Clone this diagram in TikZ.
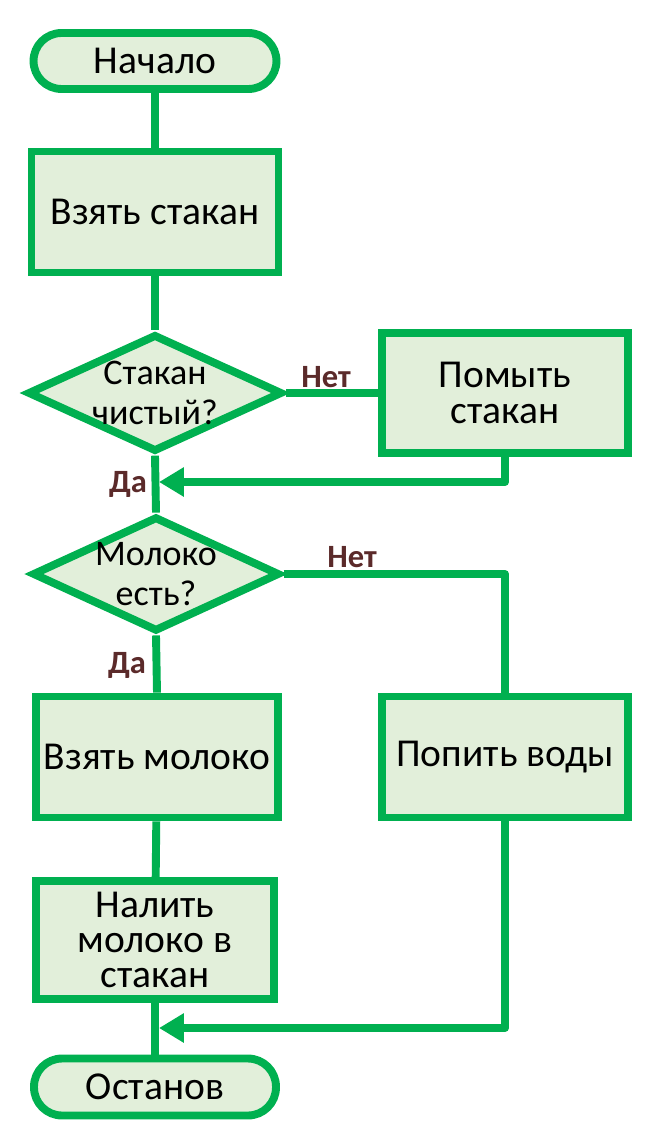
\documentclass[tikz,border=0pt]{standalone}
\usepackage{fontspec}
\setmainfont{Carlito}
\usetikzlibrary{shapes.geometric,arrows.meta}
\definecolor{gline}{HTML}{00B050}
\definecolor{gfill}{HTML}{E2EFDA}
\definecolor{lbl}{HTML}{5B2A2A}
\tikzset{
  base/.style={draw=gline, fill=gfill, line width=4.5pt, inner sep=0pt, align=center,
    font=\fontsize{22.5}{20}\selectfont},
  term/.style={base, rounded corners=0.56cm},
  proc/.style={base, rectangle},
  dec/.style={base, diamond, shape aspect=2.15, inner sep=-0.2cm, font=\fontsize{20.5}{22.7}\selectfont},
  conn/.style={draw=gline, line width=4.5pt, line join=round},
  arr/.style={conn, -{Triangle[length=0.5cm,width=0.56cm]}},
  lab/.style={text=lbl, font=\bfseries\fontsize{18.5}{20}\selectfont, inner sep=0pt},
}
\begin{document}
\begin{tikzpicture}[x=0.02cm,y=-0.02cm]
\useasboundingbox (0,0) rectangle (657,1138);
\node[term, minimum width=4.86cm, minimum height=1.12cm] (start) at (155,61) {Начало};
\node[proc, minimum width=4.94cm, minimum height=2.42cm] (take) at (155,212) {Взять стакан};
\node[dec, minimum width=5.1cm, minimum height=2.35cm] (clean) at (155,393) {Стакан\\чистый?};
\node[proc, minimum width=4.92cm, minimum height=2.4cm] (wash) at (505,393) {Помыть\\стакан};
\node[dec, minimum width=4.95cm, minimum height=2.3cm] (milk) at (156,574) {Молоко\\есть?};
\node[proc, minimum width=4.84cm, minimum height=2.42cm] (takemilk) at (157,757) {Взять молоко};
\node[proc, minimum width=4.92cm, minimum height=2.42cm] (water) at (505,757) {Попить воды};
\node[proc, minimum width=4.76cm, minimum height=2.36cm] (pour) at (155,940) {Налить\\молоко в\\стакан};
\node[term, minimum width=4.84cm, minimum height=1.14cm] (stop) at (155,1087) {Останов};

\coordinate (j1) at (159,482);
\coordinate (j2) at (159,1028);

\draw[conn] (start) -- (take);
\draw[conn] (take) -- (clean);
\draw[conn] (clean.south) -- (milk.north);
\draw[conn] (clean.east) -- (wash.west);
\draw[arr] (wash.south) |- (j1);
\draw[conn] (milk.east) -| (water.north);
\draw[conn] (milk.south) -- (takemilk.north);
\draw[conn] (takemilk) -- (pour);
\draw[conn] (pour) -- (stop);
\draw[arr] (water.south) |- (j2);

\node[lab] (n1) at (326,377) {Нет};
\node[lab] (y1) at (128,484) {Да};
\node[lab] (n2) at (352,557) {Нет};
\node[lab] (y2) at (127,665) {Да};
\end{tikzpicture}
\end{document}
